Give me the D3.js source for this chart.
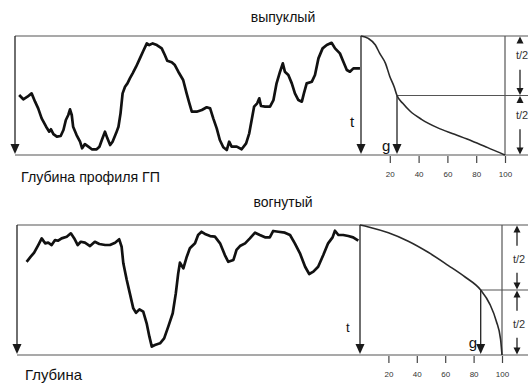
<!DOCTYPE html>
<html>
<head>
<meta charset="utf-8">
<script src="https://cdn.jsdelivr.net/npm/d3@7"></script>
<style>
  html, body { margin: 0; padding: 0; background: #fff; }
  svg { display: block; }
</style>
</head>
<body>
<div id="chart"></div>
<script>
// profile traces: distance along profile (%) and relative height (%)
const convexProfileDist = [1.2, 2.4, 3.6, 4.8, 5.8, 6.7, 7.7, 9.0, 9.9, 10.4, 11.1, 12.1, 13.2, 14.0, 14.7, 15.4, 15.9, 16.4, 16.8, 17.8, 18.8, 19.4, 20.2, 21.2, 22.2, 23.6, 24.4, 25.1, 26.0, 26.7, 27.5, 28.2, 29.2, 29.9, 30.5, 31.1, 31.8, 32.5, 33.2, 34.0, 35.0, 36.1, 37.1, 38.1, 38.8, 39.8, 41.0, 42.4, 43.3, 44.0, 45.3, 46.2, 47.2, 48.6, 49.6, 50.4, 51.1, 52.5, 54.0, 55.4, 56.4, 57.3, 58.3, 59.2, 60.2, 61.2, 61.9, 62.6, 64.1, 65.5, 66.8, 67.7, 68.4, 69.1, 70.0, 70.6, 71.1, 72.3, 73.7, 74.7, 75.6, 76.6, 77.4, 78.0, 79.0, 80.0, 80.9, 81.9, 82.9, 83.5, 84.3, 85.8, 86.7, 87.7, 88.9, 90.1, 91.5, 92.5, 93.9, 94.9, 95.9, 96.8, 97.8, 99.7]
const convexProfileHeight = [50.4, 46.8, 49.0, 51.8, 44.8, 39.2, 30.8, 23.8, 19.6, 21.6, 17.6, 15.4, 16.0, 21.0, 29.4, 33.6, 38.4, 33.6, 23.8, 16.8, 11.2, 5.6, 9.2, 7.0, 4.8, 4.8, 7.0, 12.6, 19.6, 14.0, 8.4, 11.2, 18.2, 23.8, 35.0, 51.8, 57.4, 60.2, 64.4, 68.6, 74.2, 81.2, 87.6, 93.8, 92.4, 93.8, 92.4, 89.6, 84.0, 79.2, 77.9, 75.6, 70.0, 63.0, 51.8, 43.4, 36.4, 36.4, 37.8, 40.1, 39.2, 30.8, 22.4, 12.6, 6.5, 4.2, 11.2, 7.0, 7.0, 4.8, 9.8, 18.2, 29.4, 40.6, 43.4, 47.6, 41.2, 40.6, 40.6, 46.2, 60.2, 70.0, 77.0, 70.0, 67.2, 60.2, 51.8, 46.2, 44.8, 51.8, 60.2, 61.6, 67.2, 81.2, 89.6, 92.4, 94.3, 89.6, 85.4, 78.4, 71.4, 70.0, 72.8, 72.8]

const concaveProfileDist = [2.8, 4.0, 5.0, 6.2, 7.2, 8.2, 9.1, 10.1, 11.1, 12.0, 13.0, 14.5, 15.7, 16.7, 17.7, 18.6, 19.8, 21.3, 22.7, 24.0, 25.7, 27.1, 28.6, 29.8, 30.5, 31.0, 32.0, 32.9, 33.9, 34.7, 35.7, 36.8, 37.8, 38.6, 39.3, 40.2, 41.7, 42.9, 44.1, 45.4, 46.3, 47.0, 47.5, 48.5, 49.5, 50.4, 51.9, 52.8, 53.8, 54.8, 56.3, 57.7, 59.2, 60.6, 61.6, 63.1, 64.0, 65.0, 66.5, 67.9, 69.4, 70.8, 72.3, 73.7, 74.7, 76.2, 78.1, 79.6, 81.0, 82.5, 84.0, 85.2, 86.4, 87.8, 89.3, 90.7, 92.0, 92.7, 93.7, 95.1, 96.6, 98.0, 99.5]
const concaveProfileHeight = [71.7, 75.6, 78.7, 84.6, 89.7, 85.9, 86.4, 84.6, 88.4, 87.9, 89.7, 91.0, 93.6, 89.7, 84.6, 87.1, 86.4, 83.8, 87.1, 85.4, 84.6, 84.6, 86.4, 89.0, 83.3, 70.5, 57.7, 47.4, 35.9, 32.5, 35.1, 33.3, 24.4, 14.1, 6.4, 7.7, 9.0, 12.8, 21.8, 32.1, 47.4, 62.8, 71.0, 66.7, 75.6, 82.1, 85.9, 92.3, 94.8, 93.1, 91.5, 91.0, 85.9, 76.9, 71.7, 73.1, 80.8, 83.8, 85.9, 89.7, 94.1, 92.3, 90.5, 90.5, 95.4, 94.8, 94.1, 92.3, 85.9, 78.2, 67.9, 62.3, 64.1, 67.9, 76.9, 85.9, 90.5, 95.6, 92.3, 92.3, 91.5, 90.5, 87.9]

// cumulative curves: share of profile (%) vs depth (% of t)
const convexCurvePct = [0, 5, 10, 13, 17, 20, 23, 25, 29, 34, 42, 53, 65, 77, 88, 99, 100]
const convexCurveDepth = [0, 2, 7.6, 14.6, 23, 34, 42.6, 50, 56.6, 63, 70, 77, 82.6, 88.2, 93.8, 99.5, 100]
const concaveCurvePct = [0, 6, 20, 34, 48, 62, 74, 85, 91.5, 96, 99, 100]
const concaveCurveDepth = [0, 1.5, 6, 12.5, 21, 31, 40, 50, 61, 74, 88, 100]

const tickValues = [20, 40, 60, 80, 100]
const gValues = [25, 85]
const panelTitles = ['выпуклый', 'вогнутый']
const depthLabels = ['Глубина профиля ГП', 'Глубина']
const halfLabel = 't/2'

const width = 530
const height = 385
const fontFamily = 'Liberation Sans, Arial, sans-serif'

const panels = [
    {
        dist: convexProfileDist, elev: convexProfileHeight,
        pct: convexCurvePct, depth: convexCurveDepth, g: gValues[0],
        title: panelTitles[0], label: depthLabels[0], labelLen: 139,
        top: 36, bottom: 155, left: 15, divider: 361, right: 505, col: 520, end: 528,
        titleY: 22, labelX: 21, labelY: 182, tSize: 15, tOff: [-11, -28], gOff: [-15, -4], halfFrac: 0.33
    },
    {
        dist: concaveProfileDist, elev: concaveProfileHeight,
        pct: concaveCurvePct, depth: concaveCurveDepth, g: gValues[1],
        title: panelTitles[1], label: depthLabels[1], labelLen: 57,
        top: 225, bottom: 355, left: 17, divider: 360, right: 502, col: 517, end: 528,
        titleY: 207, labelX: 25, labelY: 380, tSize: 13, tOff: [-14, -23], gOff: [-12, -7], halfFrac: 0.52
    }
]

const svg = d3.select('#chart').append('svg')
    .attr('width', width)
    .attr('height', height)
    .style('background', '#fff')

const arrowHead = (g, x, tip, dir, w, h) => {
    // dir 1 = points down, -1 = points up
    g.append('path')
        .attr('d', `M${x - w / 2},${tip - dir * h}L${x + w / 2},${tip - dir * h}L${x},${tip}Z`)
        .attr('fill', '#1a1a1a')
}

panels.forEach(p => {
    const g = svg.append('g')

    const profX = d3.scaleLinear().domain([0, 100]).range([p.left, p.divider])
    const profY = d3.scaleLinear().domain([0, 100]).range([p.bottom, p.top])
    const pctX = d3.scaleLinear().domain([0, 100]).range([p.divider, p.right])
    const depthY = d3.scaleLinear().domain([0, 100]).range([p.top, p.bottom])

    // frame
    const frame = g.append('g')
        .attr('stroke', '#555')
        .attr('stroke-width', 1.2)
        .attr('fill', 'none')
    frame.append('line').attr('x1', p.left).attr('x2', p.end).attr('y1', p.top).attr('y2', p.top)
    frame.append('line').attr('x1', p.left).attr('x2', p.end).attr('y1', p.bottom).attr('y2', p.bottom)
    frame.append('line').attr('x1', p.right).attr('x2', p.right).attr('y1', p.top).attr('y2', p.bottom)
    frame.append('line')
        .attr('x1', pctX(p.g)).attr('x2', p.end)
        .attr('y1', depthY(50)).attr('y2', depthY(50))

    // vertical arrows: left axis, t divider, g
    const shafts = g.append('g').attr('stroke', '#222').attr('stroke-width', 1.3)
    shafts.append('line').attr('x1', p.left).attr('x2', p.left).attr('y1', p.top).attr('y2', p.bottom - 8)
    arrowHead(g, p.left, p.bottom - 1, 1, 9, 10)
    shafts.append('line').attr('x1', p.divider).attr('x2', p.divider).attr('y1', p.top).attr('y2', p.bottom - 8)
    arrowHead(g, p.divider, p.bottom - 1, 1, 9, 10)
    shafts.append('line').attr('x1', pctX(p.g)).attr('x2', pctX(p.g)).attr('y1', depthY(50)).attr('y2', p.bottom - 8)
    arrowHead(g, pctX(p.g), p.bottom - 1, 1, 9, 10)

    // t/2 dimension marks
    const halves = [[0, 50], [50, 100]]
    halves.forEach(([a, b]) => {
        const y0 = depthY(a), y1 = depthY(b)
        const ly = y0 + (y1 - y0) * p.halfFrac
        arrowHead(g, p.col, y0 + 0.5, -1, 7, 7)
        arrowHead(g, p.col, y1 - 0.5, 1, 7, 7)
        shafts.append('line').attr('x1', p.col).attr('x2', p.col).attr('y1', y0 + 6).attr('y2', Math.max(y0 + 6, ly - 13))
        shafts.append('line').attr('x1', p.col).attr('x2', p.col).attr('y1', ly + 14).attr('y2', y1 - 6)
        g.append('text')
            .attr('x', p.col + 2)
            .attr('y', ly)
            .attr('dy', '0.35em')
            .attr('text-anchor', 'middle')
            .attr('font-family', fontFamily)
            .attr('font-size', 11)
            .attr('fill', '#333')
            .text(halfLabel)
    })

    // profile line
    const profLine = d3.line()
        .x((d, i) => profX(p.dist[i]))
        .y((d, i) => profY(p.elev[i]))
    g.append('path')
        .datum(p.dist)
        .attr('d', profLine)
        .attr('fill', 'none')
        .attr('stroke', '#111')
        .attr('stroke-width', 2.7)
        .attr('stroke-linejoin', 'round')

    // cumulative curve
    const curveLine = d3.line()
        .x((d, i) => pctX(p.pct[i]))
        .y((d, i) => depthY(p.depth[i]))
        .curve(d3.curveMonotoneX)
    g.append('path')
        .datum(p.pct)
        .attr('d', curveLine)
        .attr('fill', 'none')
        .attr('stroke', '#2a2a2a')
        .attr('stroke-width', 1.6)

    // x axis of the curve
    const axis = d3.axisBottom(pctX).tickValues(tickValues).tickSize(7).tickPadding(8)
    g.append('g')
        .attr('transform', `translate(0,${p.bottom + 1})`)
        .call(axis)
        .call(a => a.select('.domain').remove())
        .call(a => a.selectAll('line').attr('stroke', '#444').attr('stroke-width', 1.2))
        .call(a => a.selectAll('text')
            .attr('font-family', fontFamily)
            .attr('font-size', 8)
            .attr('fill', '#333'))

    // labels
    g.append('text')
        .attr('x', 283).attr('y', p.titleY)
        .attr('text-anchor', 'middle')
        .attr('font-family', fontFamily)
        .attr('font-size', 14)
        .attr('fill', '#111')
        .text(p.title)
    g.append('text')
        .attr('x', p.labelX).attr('y', p.labelY)
        .attr('font-family', fontFamily)
        .attr('font-size', 15)
        .attr('textLength', p.labelLen)
        .attr('lengthAdjust', 'spacingAndGlyphs')
        .attr('fill', '#111')
        .text(p.label)
    g.append('text')
        .attr('x', p.divider + p.tOff[0]).attr('y', p.bottom + p.tOff[1])
        .attr('font-family', fontFamily)
        .attr('font-size', p.tSize)
        .attr('fill', '#111')
        .text('t')
    g.append('text')
        .attr('x', pctX(p.g) + p.gOff[0]).attr('y', p.bottom + p.gOff[1])
        .attr('font-family', fontFamily)
        .attr('font-size', 15)
        .attr('fill', '#111')
        .text('g')
})
</script>
</body>
</html>
